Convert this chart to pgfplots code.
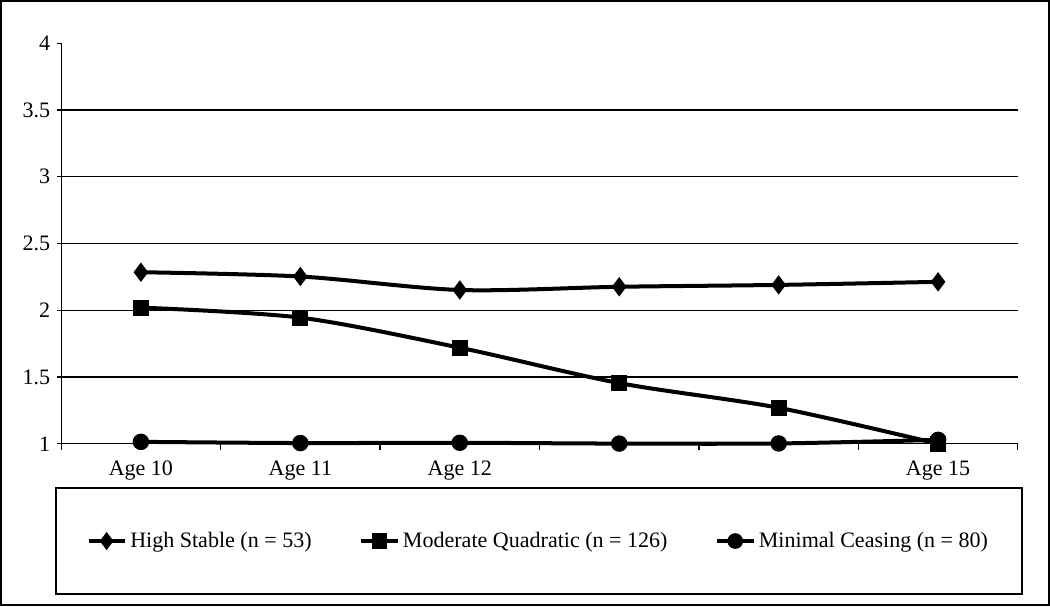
\documentclass[border=0pt]{standalone}
\usepackage{fontspec}
\setmainfont{Liberation Serif}
\usepackage{pgfplots}
\pgfplotsset{compat=1.18}

\begin{document}
\begin{tikzpicture}
\begin{axis}[
    scale only axis,
    width=477.5pt, height=200pt,
    xmin=-0.5, xmax=5.5,
    ymin=1, ymax=4,
    clip=false,
    axis lines*=left,
    axis line style={black, line width=0.6pt},
    font=\fontsize{11}{13}\selectfont,
    /pgf/number format/assume math mode=true,
    xtick={0,...,5},
    xticklabels={Age 10,Age 11,Age 12,,,Age 15},
    major x tick style={draw=none},
    minor xtick={-0.5,0.5,...,5.5},
    minor x tick style={black, line width=0.6pt},
    minor tick length=3pt,
    xticklabel style={yshift=-3pt},
    ytick={1,1.5,...,3.5},
    extra y ticks={4},
    extra y tick style={grid=none},
    ymajorgrids,
    grid style={black, line width=0.6pt},
    y tick style={black, line width=0.6pt},
    major tick length=2pt,
    tick align=outside,
    yticklabel style={xshift=0pt},
    legend columns=3,
    legend style={draw=none, fill=none, at={(0.5,-0.2425)}, anchor=center,
        font=\fontsize{11}{13}\selectfont,
        /tikz/every even column/.append style={column sep=22pt}},
    legend cell align=left,
    legend image code/.code={
        \draw[line width=1.6pt, mark repeat=2, mark phase=2]
            plot coordinates {(0pt,0pt) (9pt,0pt) (18pt,0pt)};
    },
]
\addplot[black, line width=2pt, smooth, tension=0.5, mark=diamond*, mark size=3.2pt,
    mark options={solid}] coordinates {
    (0,2.285) (1,2.253) (2,2.152) (3,2.176) (4,2.19) (5,2.213)
};
\addlegendentry{High Stable (n = 53)}
\addplot[black, line width=2pt, smooth, tension=0.5, mark=square*, mark size=3pt,
    mark options={solid}] coordinates {
    (0,2.02) (1,1.945) (2,1.72) (3,1.455) (4,1.27) (5,1.0)
};
\addlegendentry{Moderate Quadratic (n = 126)}
\addplot[black, line width=2pt, smooth, tension=0.5, mark=*, mark size=3.1pt,
    mark options={solid}] coordinates {
    (0,1.015) (1,1.006) (2,1.008) (3,1.002) (4,1.003) (5,1.03)
};
\addlegendentry{Minimal Ceasing (n = 80)}
% legend box and outer frame
\draw[black, line width=0.8pt] (rel axis cs:-0.0052,-0.11) rectangle (rel axis cs:1.0042,-0.375);
\draw[black, line width=1.1pt] (rel axis cs:-0.0628,-0.4025) rectangle (rel axis cs:1.0325,1.105);
\end{axis}
\end{tikzpicture}
\end{document}
